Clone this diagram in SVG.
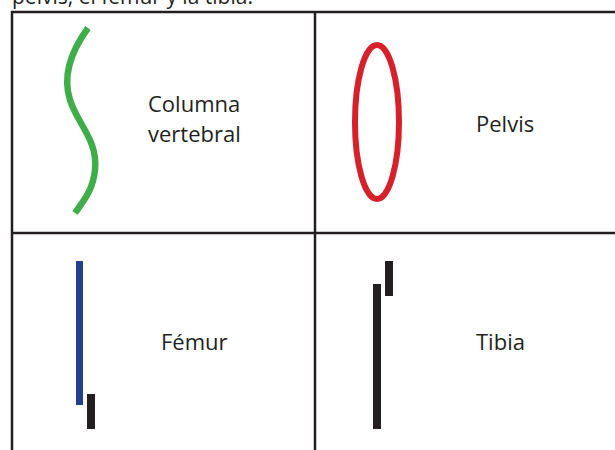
<svg xmlns="http://www.w3.org/2000/svg" width="615" height="450" viewBox="0 0 615 450">
<style>
.t{font-family:"Open Sans",Lato,"Liberation Sans",sans-serif;font-size:22px;fill:#231f20}
.grid{stroke:#231f20;stroke-width:2.5;fill:none}
.bone{fill:#231f20}
</style>
<rect width="615" height="450" fill="#fff"/>
<text class="t" x="12" y="4" style="font-size:21px">pelvis, el fémur y la tibia.</text>
<g id="grid">
<path class="grid" d="M12,460 V12 H620 M315,12 V460 M12,233 H620"/>
</g>
<g id="columna">
<path d="M88,28 C72,50 62,75 70,100 C78,125 98,140 95,170 C93,190 84,200 75,213" fill="none" stroke="#3fae49" stroke-width="6.5"/>
<text class="t" x="148" y="112">Columna</text>
<text class="t" x="148" y="142">vertebral</text>
</g>
<g id="pelvis">
<ellipse cx="377" cy="122" rx="22" ry="77" fill="none" stroke="#d6202a" stroke-width="6"/>
<text class="t" x="476" y="132">Pelvis</text>
</g>
<g id="femur">
<rect x="76" y="261" width="7" height="144" fill="#22408f"/>
<rect class="bone" x="87" y="394" width="8" height="35"/>
<text class="t" x="161" y="350">Fémur</text>
</g>
<g id="tibia">
<rect class="bone" x="373" y="284" width="8" height="145"/>
<rect class="bone" x="385" y="261" width="8" height="35"/>
<text class="t" x="476" y="350">Tibia</text>
</g>
</svg>
